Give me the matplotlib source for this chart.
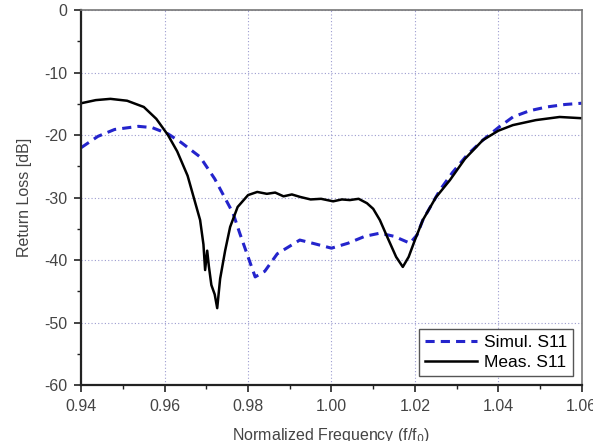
import numpy as np
import matplotlib
matplotlib.use("Agg")
import matplotlib.pyplot as plt
from matplotlib.ticker import MultipleLocator

# simulated S11 (blue dashed)
simFreq = [0.940, 0.944, 0.948, 0.9537, 0.957, 0.9608, 0.964, 0.9685, 0.972, 0.9764,
           0.978, 0.980, 0.9817, 0.984, 0.987, 0.9924, 0.996, 1.000, 1.004, 1.008,
           1.0116, 1.015, 1.0188, 1.0205, 1.0219, 1.026, 1.029, 1.0325, 1.0363, 1.040,
           1.0435, 1.0475, 1.0516, 1.056, 1.060]
simS11 = [-22.0, -20.2, -19.1, -18.6, -18.8, -19.8, -21.2, -23.5, -27.0, -32.5,
          -35.7, -39.5, -42.7, -41.8, -39.0, -36.8, -37.4, -38.1, -37.3, -36.2,
          -35.7, -36.2, -37.3, -36.0, -33.6, -28.8, -26.0, -23.2, -20.8, -18.8,
          -17.1, -16.1, -15.5, -15.1, -14.9]

# measured S11 (black solid)
measFreq = [0.940, 0.9435, 0.947, 0.951, 0.955, 0.958, 0.9608, 0.963, 0.9655, 0.9685,
            0.9693, 0.9697, 0.9702, 0.9706, 0.9712, 0.9720, 0.9726, 0.9733, 0.9745, 0.9757,
            0.9775, 0.9800, 0.9822, 0.9845, 0.9865, 0.9885, 0.9905, 0.9925, 0.9950, 0.9975,
            1.0004, 1.0025, 1.0044, 1.0065, 1.0085, 1.0100, 1.0116, 1.0135, 1.0155, 1.0171,
            1.0185, 1.0200, 1.0219, 1.0250, 1.0284, 1.0320, 1.0363, 1.0400, 1.0435, 1.0490,
            1.0547, 1.0600]
measS11 = [-14.9, -14.4, -14.2, -14.5, -15.5, -17.4, -20.0, -22.6, -26.5, -33.6,
           -37.5, -41.6, -38.5, -41.0, -44.0, -45.5, -47.7, -43.0, -38.5, -34.7,
           -31.5, -29.6, -29.1, -29.4, -29.2, -29.8, -29.5, -29.9, -30.3, -30.2,
           -30.6, -30.3, -30.4, -30.2, -30.9, -31.8, -33.6, -36.5, -39.5, -41.1,
           -39.5, -36.8, -33.6, -30.0, -27.2, -23.8, -20.8, -19.3, -18.4, -17.6,
           -17.1, -17.3]

xTicks = [0.94, 0.96, 0.98, 1.00, 1.02, 1.04, 1.06]
yTicks = [0, -10, -20, -30, -40, -50, -60]

plt.rcParams['font.family'] = ['Liberation Sans', 'DejaVu Sans']
plt.rcParams['axes.unicode_minus'] = False

fig = plt.figure(figsize=(5.93, 4.41), dpi=100)
ax = fig.add_axes([0.137, 0.127, 0.844, 0.85])

ax.plot(simFreq, simS11, color='#2424cc', linestyle=(0, (3, 2)), linewidth=2.2, label='Simul. S11')
ax.plot(measFreq, measS11, color='black', linewidth=1.8, label='Meas. S11')

ax.set_xlim(0.94, 1.06)
ax.set_ylim(-60, 0)
ax.set_xticks(xTicks)
ax.set_xticklabels(['%.2f' % t for t in xTicks])
ax.set_yticks(yTicks)
ax.xaxis.set_minor_locator(MultipleLocator(0.01))
ax.yaxis.set_minor_locator(MultipleLocator(5))
ax.tick_params(which='major', length=5, width=1.2, labelsize=11.5, colors='#222222',
               labelcolor='#444444', pad=5)
ax.tick_params(which='minor', length=3, width=1.0, colors='#222222')
ax.tick_params(top=False, right=False, which='both')

ax.grid(True, which='major', color='#5a5ab0', linestyle=(0, (1, 2)), linewidth=0.8, alpha=0.6)

for side in ['left', 'bottom']:
    ax.spines[side].set_linewidth(1.6)
    ax.spines[side].set_color('#222222')
for side in ['top', 'right']:
    ax.spines[side].set_linewidth(1.2)
    ax.spines[side].set_color('#777777')

ax.set_xlabel('Normalized Frequency (f/f$_0$)', fontsize=11.5, color='#444444', labelpad=9)
ax.set_ylabel('Return Loss [dB]', fontsize=11.5, color='#444444', labelpad=9)

leg = ax.legend(loc='lower right', fontsize=12.5, fancybox=False, framealpha=1,
                edgecolor='#555555', handlelength=3.0, borderaxespad=0.5,
                borderpad=0.35, labelspacing=0.3, handletextpad=0.4)
leg.get_frame().set_linewidth(1.0)

fig.savefig('out.png', dpi=100)
